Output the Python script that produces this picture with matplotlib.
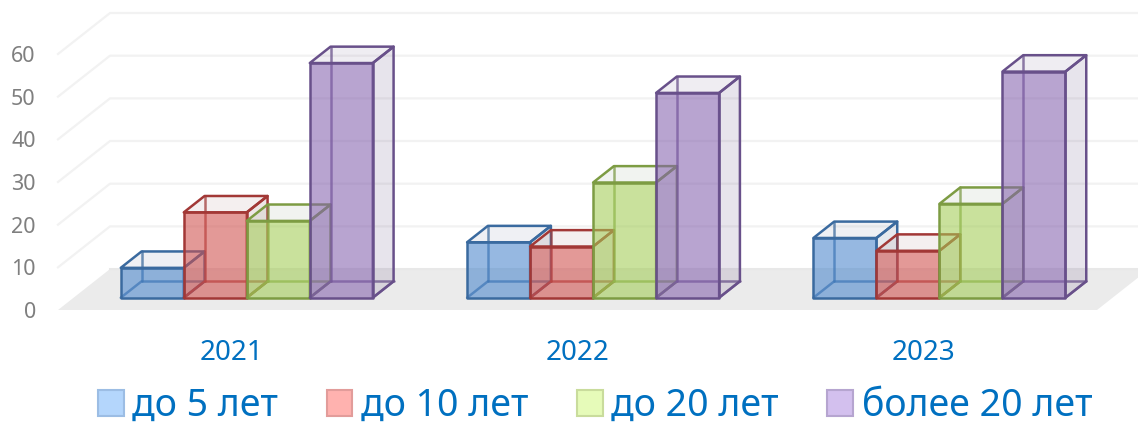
import matplotlib.pyplot as plt
from matplotlib.patches import Patch, Polygon

plt.rcParams['font.family'] = ['Noto Sans', 'DejaVu Sans']

years = ['2021', '2022', '2023']
series = ['до 5 лет', 'до 10 лет', 'до 20 лет', 'более 20 лет']
do5 = [7, 13, 14]
do10 = [20, 12, 11]
do20 = [18, 27, 22]
bolee20 = [55, 48, 53]
values = [do5, do10, do20, bolee20]
yticks = [0, 10, 20, 30, 40, 50, 60]

face = ['#4A86CC', '#D0504D', '#A2CC55', '#8562AE']
muted = ['#6F7FA0', '#A07070', '#88957A', '#75608F']
edge = ['#3A6A9F', '#A23836', '#7D9C43', '#68508A']
swatch = ['#B4D6FC', '#FFB2AF', '#E6FBB9', '#D3C0EE']
swatch_edge = ['#9CBDE4', '#E29C9A', '#C9DC9C', '#B6A5D0']

W, H = 1138, 423
fig = plt.figure(figsize=(W / 100, H / 100), dpi=100)
# the front plane of the fake 3d box
ax = fig.add_axes([58 / W, (H - 310) / H, 1039 / W, 256 / H])
ax.set_xlim(-0.5, 2.5)
ax.set_ylim(0, 60)
for s in ax.spines.values():
    s.set_visible(False)

# full depth of the box, in data units
depth_x = 52 / 346.3
depth_y = 41 / 4.27
bar_w = 63 / 346.3
d_front, d_back = 0.30, 0.70


def sheared(x, y, d):
    return x + d * depth_x, y + d * depth_y


# floor and gridlines
x0, x1 = -0.5, 2.5
floor = [sheared(x0, 0, 0), sheared(x1, 0, 0), sheared(x1, 0, 1), sheared(x0, 0, 1)]
ax.add_patch(Polygon(floor, closed=True, fc='#EBEBEB', ec='none', clip_on=False, zorder=1))
for v in yticks[1:]:
    px, py = zip(sheared(x0, v, 0), sheared(x0, v, 1), sheared(x1, v, 1))
    ax.plot(px, py, color='#F2F2F2', lw=1.6, clip_on=False, zorder=1)
px, py = zip(sheared(x0, 0, 1), sheared(x1, 0, 1))
ax.plot(px, py, color='#E8E8E8', lw=1.5, clip_on=False, zorder=1)

z = 2
for i in range(len(years)):
    for j in range(len(series)):
        left = i + (j - 2) * bar_w
        right = left + bar_w
        top = values[j][i]
        fb = lambda x, y: sheared(x, y, d_front)
        bk = lambda x, y: sheared(x, y, d_back)
        # back edges first, the front face goes over them
        for a, b in [(bk(left, 0), bk(right, 0)), (bk(left, 0), bk(left, top)),
                     (fb(left, 0), bk(left, 0)), (fb(right, 0), bk(right, 0))]:
            ax.plot(*zip(a, b), color=edge[j], lw=1.8, alpha=0.75, clip_on=False,
                    zorder=z, solid_capstyle='round')
        side = [fb(right, 0), bk(right, 0), bk(right, top), fb(right, top)]
        lid = [fb(left, top), fb(right, top), bk(right, top), bk(left, top)]
        ax.add_patch(Polygon(side, closed=True, fc=muted[j], ec='none', alpha=0.17,
                             clip_on=False, zorder=z))
        ax.add_patch(Polygon(lid, closed=True, fc=muted[j], ec='none', alpha=0.11,
                             clip_on=False, zorder=z))
        for poly in (side, lid):
            ax.add_patch(Polygon(poly, closed=True, fill=False, ec=edge[j], lw=1.8,
                                 clip_on=False, zorder=z, joinstyle='round'))
        ax.add_patch(Polygon([fb(left, 0), fb(right, 0), fb(right, top), fb(left, top)],
                             closed=True, fc=face[j], alpha=0.58, ec='none',
                             clip_on=False, zorder=z))
        ax.add_patch(Polygon([fb(left, 0), fb(right, 0), fb(right, top), fb(left, top)],
                             closed=True, fill=False, ec=edge[j], lw=1.8,
                             clip_on=False, zorder=z, joinstyle='round'))
        z += 1

ax.set_xticks(range(len(years)), years)
ax.set_yticks(yticks)
ax.tick_params(axis='x', length=0, pad=21, labelsize=20, labelcolor='#0070C0')
ax.tick_params(axis='y', length=0, pad=16, labelsize=15.5, labelcolor='#7F7F7F')

handles = [Patch(fc=swatch[j], ec=swatch_edge[j], lw=1.5) for j in range(len(series))]
ax.legend(handles, series, ncol=4, frameon=False, fontsize=27, labelcolor='#0070C0',
          loc='center', bbox_to_anchor=(595 / W, (H - 406) / H),
          bbox_transform=fig.transFigure, handlelength=0.69, handleheight=0.69,
          handletextpad=0.22, columnspacing=1.3, borderpad=0, borderaxespad=0)

fig.savefig('out.png', dpi=100)
